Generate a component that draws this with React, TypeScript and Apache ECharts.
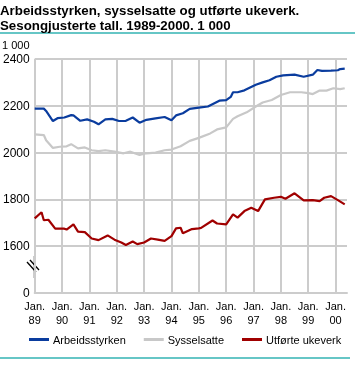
import React, { useEffect, useRef } from "react";
import * as echarts from "echarts";

// Months counted from Jan 1989 (0) to Jun 2000 (137)
const monthCount = 138;
const yTicks = [1400, 1600, 1800, 2000, 2200, 2400];

const arbeidsMonths = [0, 4, 5, 8, 10, 13, 16, 17, 20, 23, 26, 28, 31, 34, 37, 40, 43, 46, 49, 53, 57, 60, 62, 65, 68, 72, 76, 81, 84, 86, 87, 89, 92, 97, 100, 103, 106, 109, 114, 118, 122, 124, 126, 130, 133, 134, 136];
const arbeidsValues = [2188, 2188, 2178, 2135, 2147, 2150, 2160, 2159, 2136, 2142, 2132, 2121, 2142, 2144, 2135, 2136, 2150, 2128, 2140, 2146, 2152, 2138, 2159, 2168, 2187, 2192, 2197, 2222, 2224, 2238, 2258, 2258, 2266, 2290, 2300, 2309, 2324, 2330, 2333, 2324, 2333, 2353, 2349, 2350, 2352, 2357, 2359];

const syssMonths = [0, 4, 5, 8, 11, 14, 16, 19, 22, 25, 28, 31, 35, 39, 42, 46, 49, 53, 57, 60, 64, 68, 72, 77, 80, 84, 87, 89, 93, 97, 100, 104, 108, 112, 117, 120, 122, 125, 128, 131, 134, 136];
const syssValues = [2078, 2075, 2053, 2020, 2025, 2027, 2036, 2018, 2022, 2010, 2006, 2010, 2004, 1997, 2004, 1990, 1997, 2000, 2010, 2013, 2027, 2050, 2063, 2082, 2099, 2108, 2144, 2155, 2172, 2197, 2214, 2225, 2246, 2258, 2258, 2254, 2250, 2265, 2265, 2275, 2271, 2275];

const ukeverkMonths = [0, 3, 4, 6, 9, 13, 14, 17, 19, 22, 25, 28, 32, 35, 38, 40, 43, 45, 48, 51, 54, 57, 60, 62, 64, 65, 69, 72, 73, 78, 80, 84, 87, 89, 92, 95, 98, 101, 105, 108, 110, 114, 118, 122, 125, 127, 130, 133, 136];
const ukeverkValues = [1719, 1745, 1711, 1713, 1675, 1675, 1671, 1693, 1662, 1660, 1633, 1626, 1646, 1628, 1616, 1605, 1620, 1609, 1616, 1633, 1628, 1623, 1643, 1676, 1679, 1655, 1673, 1676, 1678, 1710, 1697, 1693, 1736, 1722, 1750, 1764, 1750, 1800, 1807, 1811, 1803, 1826, 1796, 1797, 1793, 1807, 1814, 1797, 1779];

const seriesNames = ["Arbeidsstyrken", "Sysselsatte", "Utførte ukeverk"];
const seriesColors = ["#0a3c9e", "#c8c8c8", "#a00000"];

const FONT = "'Liberation Sans', Arial, sans-serif";

export default function App() {
  const ref = useRef<HTMLDivElement>(null);
  useEffect(() => {
    if (!ref.current) return;
    const chart = echarts.init(ref.current, null, { renderer: "svg" });
    const categories = Array.from({ length: monthCount }, (_, i) => {
      const y = 1989 + Math.floor(i / 12);
      const m = (i % 12) + 1;
      return `${y}-${String(m).padStart(2, "0")}`;
    });
    const pair = (ms: number[], vs: number[]) => ms.map((m, i) => [m, vs[i]]);
    const isJan = (index: number) => index % 12 === 0;
    const gridColor = "#cccccc";
    chart.setOption({
      animation: false,
      textStyle: { fontFamily: FONT },
      title: {
        text: "Arbeidsstyrken, sysselsatte og utførte ukeverk.\nSesongjusterte tall. 1989-2000. 1 000",
        left: 0,
        top: 3,
        padding: 0,
        textStyle: { fontFamily: FONT, fontSize: 13.3, fontWeight: "bold", color: "#000", lineHeight: 15 },
      },
      grid: { left: 34, right: 8, top: 59, bottom: 73, containLabel: false },
      xAxis: {
        type: "category",
        data: categories,
        boundaryGap: false,
        axisLine: { show: true, lineStyle: { color: gridColor, width: 2 } },
        axisTick: { show: false },
        axisLabel: {
          interval: (index: number) => isJan(index),
          formatter: (_v: string, index: number) =>
            `Jan.\n${String((89 + index / 12) % 100).padStart(2, "0")}`,
          color: "#000",
          fontSize: 11,
          lineHeight: 14,
          margin: 6,
          fontFamily: FONT,
        },
        splitLine: { show: true, interval: (index: number) => isJan(index), lineStyle: { color: gridColor, width: 2 } },
      },
      yAxis: {
        type: "value",
        min: yTicks[0],
        max: yTicks[yTicks.length - 1],
        interval: 200,
        axisLine: { show: false },
        axisTick: { show: false },
        axisLabel: {
          formatter: (v: number) => (v === yTicks[0] ? "0" : String(v)),
          color: "#000",
          fontSize: 12,
          margin: 5,
          fontFamily: FONT,
        },
        splitLine: { show: true, lineStyle: { color: gridColor, width: 2 } },
      },
      legend: {
        bottom: 16,
        left: 24,
        itemWidth: 20,
        itemHeight: 3,
        itemGap: 18,
        icon: "rect",
        textStyle: { fontFamily: FONT, fontSize: 11, color: "#000", padding: [0, 0, 0, -1] },
        data: seriesNames,
      },
      graphic: [
        { type: "rect", shape: { x: 0, y: 32, width: 355, height: 2 }, style: { fill: "#66c6c6" } },
        { type: "rect", shape: { x: 0, y: 357, width: 350, height: 2 }, style: { fill: "#66c6c6" } },
        { type: "text", left: 2, top: 39, style: { text: "1 000", fontSize: 11, fontFamily: FONT, fill: "#000" } },
        { type: "rect", shape: { x: 26, y: 258, width: 16, height: 18 }, style: { fill: "#fff" } },
        { type: "line", shape: { x1: 34, y1: 256, x2: 34, y2: 278 }, style: { stroke: gridColor, lineWidth: 2 } },
        { type: "line", shape: { x1: 27, y1: 262, x2: 36, y2: 272 }, style: { stroke: "#000", lineWidth: 1.3 } },
        { type: "line", shape: { x1: 30, y1: 260, x2: 39, y2: 270 }, style: { stroke: "#000", lineWidth: 1.3 } },
      ],
      series: [
        { name: seriesNames[0], type: "line", data: pair(arbeidsMonths, arbeidsValues), showSymbol: false, color: seriesColors[0], lineStyle: { width: 2.2 } },
        { name: seriesNames[1], type: "line", data: pair(syssMonths, syssValues), showSymbol: false, color: seriesColors[1], lineStyle: { width: 2.2 } },
        { name: seriesNames[2], type: "line", data: pair(ukeverkMonths, ukeverkValues), showSymbol: false, color: seriesColors[2], lineStyle: { width: 2.2 } },
      ],
    });
    return () => chart.dispose();
  }, []);
  return <div ref={ref} style={{ position: "fixed", left: 0, top: 0, width: 355, height: 366 }} />;
}
